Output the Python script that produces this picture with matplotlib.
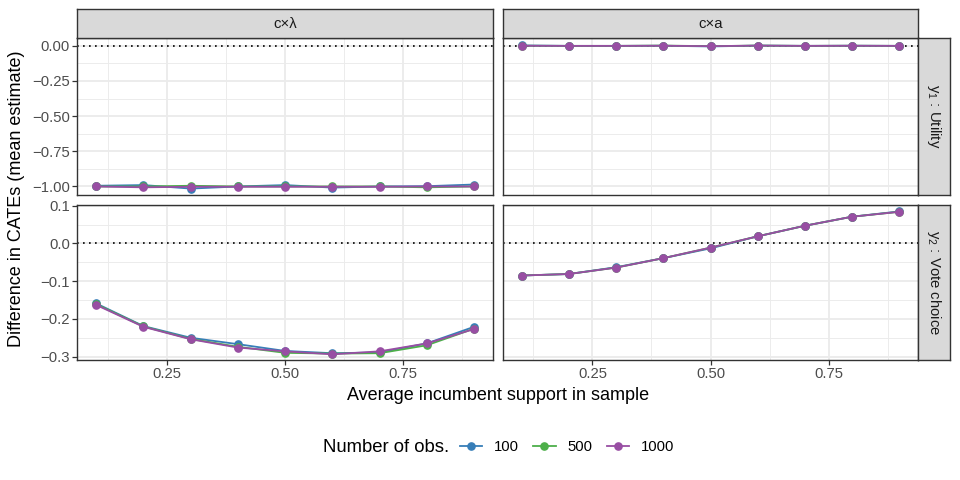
import numpy as np
import matplotlib
matplotlib.use('Agg')
import matplotlib.pyplot as plt
from matplotlib.lines import Line2D
from matplotlib.ticker import MultipleLocator, FuncFormatter

plt.rcParams['font.family'] = ['Liberation Sans', 'DejaVu Sans']

# average incumbent support in sample
support = [0.1, 0.2, 0.3, 0.4, 0.5, 0.6, 0.7, 0.8, 0.9]
n_obs = ['100', '500', '1000']
colours = ['#377EB8', '#4DAF4A', '#984EA3']

col_labels = ['c\u00d7\u03bb', 'c\u00d7a']
row_labels = ['$\\mathregular{y_1}$ : Utility', '$\\mathregular{y_2}$ : Vote choice']

# y1 utility, c x lambda
util_lam_100 = [-0.995, -0.990, -1.015, -1.000, -0.990, -1.008, -1.000, -0.998, -0.986]
util_lam_500 = [-1.000, -1.000, -0.995, -1.000, -1.000, -1.000, -1.000, -1.006, -1.000]
util_lam_1000 = [-1.000, -1.006, -1.002, -1.002, -1.002, -1.002, -1.002, -1.000, -1.000]
# y1 utility, c x a
util_a_100 = [0.002, -0.001, -0.001, 0.000, -0.005, 0.001, -0.001, 0.000, -0.001]
util_a_500 = [0.000, -0.001, -0.001, 0.001, -0.003, 0.001, -0.001, 0.000, -0.001]
util_a_1000 = [0.000, -0.001, -0.001, 0.000, -0.003, 0.001, -0.001, 0.000, -0.001]
# y2 vote choice, c x lambda
vote_lam_100 = [-0.159, -0.219, -0.250, -0.267, -0.285, -0.291, -0.289, -0.265, -0.221]
vote_lam_500 = [-0.161, -0.220, -0.253, -0.274, -0.290, -0.292, -0.291, -0.270, -0.226]
vote_lam_1000 = [-0.163, -0.221, -0.254, -0.276, -0.286, -0.294, -0.286, -0.265, -0.227]
# y2 vote choice, c x a
vote_a_100 = [-0.085, -0.081, -0.063, -0.039, -0.013, 0.019, 0.047, 0.071, 0.085]
vote_a_500 = [-0.085, -0.081, -0.064, -0.039, -0.011, 0.019, 0.047, 0.071, 0.084]
vote_a_1000 = [-0.085, -0.081, -0.064, -0.039, -0.011, 0.019, 0.047, 0.071, 0.084]

panels = [[[util_lam_100, util_lam_500, util_lam_1000],
           [util_a_100, util_a_500, util_a_1000]],
          [[vote_lam_100, vote_lam_500, vote_lam_1000],
           [vote_a_100, vote_a_500, vote_a_1000]]]

W, H = 960, 480
fig = plt.figure(figsize=(9.6, 4.8), dpi=100)

border = '#333333'
strip_bg = '#D9D9D9'
tick_col = '#4D4D4D'

col_x = [77.3, 502.7]
col_w = 415.6
row_y = [(38.0, 194.5), (205.0, 360.0)]

def fx(px):
    return px / W

def fy(px):
    return 1 - px / H

def fmt(decimals):
    # ggplot style labels with a true minus sign
    return FuncFormatter(lambda v, pos: ('%.*f' % (decimals, v)).replace('-', '\u2212'))

axes = [[None, None], [None, None]]
for r in range(2):
    y0, y1 = row_y[r]
    for c in range(2):
        ax = fig.add_axes([fx(col_x[c]), fy(y1), col_w / W, (y1 - y0) / H])
        axes[r][c] = ax
        ax.set_axisbelow(True)
        ax.axhline(0, color='black', linestyle=(0, (1, 2.6)), lw=1.2, zorder=2)
        for k in range(3):
            ax.plot(support, panels[r][c][k], color=colours[k], lw=1.3,
                    marker='o', ms=5.2, zorder=3 + k)
        ax.set_xlim(0.06, 0.94)
        ax.xaxis.set_major_locator(MultipleLocator(0.25))
        ax.xaxis.set_minor_locator(MultipleLocator(0.125))
        ax.xaxis.set_major_formatter(fmt(2))
        if r == 0:
            ax.set_ylim(-1.057, 0.055)
            ax.yaxis.set_major_locator(MultipleLocator(0.25))
            ax.yaxis.set_minor_locator(MultipleLocator(0.125))
            ax.yaxis.set_major_formatter(fmt(2))
        else:
            ax.set_ylim(-0.309, 0.102)
            ax.yaxis.set_major_locator(MultipleLocator(0.1))
            ax.yaxis.set_minor_locator(MultipleLocator(0.05))
            ax.yaxis.set_major_formatter(fmt(1))
        ax.grid(which='major', color='#EBEBEB', lw=1.3)
        ax.grid(which='minor', color='#EBEBEB', lw=0.65)
        for s in ax.spines.values():
            s.set_color(border)
            s.set_linewidth(1.0)
        ax.tick_params(which='minor', length=0)
        ax.tick_params(which='major', length=3.4, width=0.9, color=border,
                       labelcolor=tick_col, labelsize=10.7, pad=2)
        if c == 1:
            ax.tick_params(axis='y', left=False, labelleft=False)
        if r == 0:
            ax.tick_params(axis='x', bottom=False, labelbottom=False)

# strips on top
for c in range(2):
    sax = fig.add_axes([fx(col_x[c]), fy(37.7), col_w / W, 28.4 / H])
    sax.set_facecolor(strip_bg)
    sax.set_xticks([])
    sax.set_yticks([])
    for s in sax.spines.values():
        s.set_color(border)
        s.set_linewidth(1.0)
    sax.text(0.5, 0.5, col_labels[c], ha='center', va='center',
             fontsize=10.7, color='#1A1A1A', transform=sax.transAxes)

# strips on the right
for r in range(2):
    y0, y1 = row_y[r]
    sax = fig.add_axes([fx(918.3), fy(y1), 32.0 / W, (y1 - y0) / H])
    sax.set_facecolor(strip_bg)
    sax.set_xticks([])
    sax.set_yticks([])
    for s in sax.spines.values():
        s.set_color(border)
        s.set_linewidth(1.0)
    sax.text(0.5, 0.5, row_labels[r], ha='center', va='center', rotation=-90,
             fontsize=10.7, color='#1A1A1A', transform=sax.transAxes)

fig.text(fx(17), fy(199), 'Difference in CATEs (mean estimate)', rotation=90,
         ha='center', va='center', fontsize=13)
fig.text(fx(498), fy(396), 'Average incumbent support in sample',
         ha='center', va='center', fontsize=13)

# legend
fig.text(fx(323), fy(447), 'Number of obs.', ha='left', va='center', fontsize=13.3)
handles = [Line2D([], [], color=colours[k], lw=1.3, marker='o', ms=5.2)
           for k in range(3)]
fig.legend(handles, n_obs, loc='center left', bbox_to_anchor=(fx(460), fy(447)),
           ncol=3, frameon=False, fontsize=10.7, handlelength=1.5,
           handletextpad=0.8, columnspacing=0.95, borderpad=0, borderaxespad=0)

fig.savefig('out.png', dpi=100)
